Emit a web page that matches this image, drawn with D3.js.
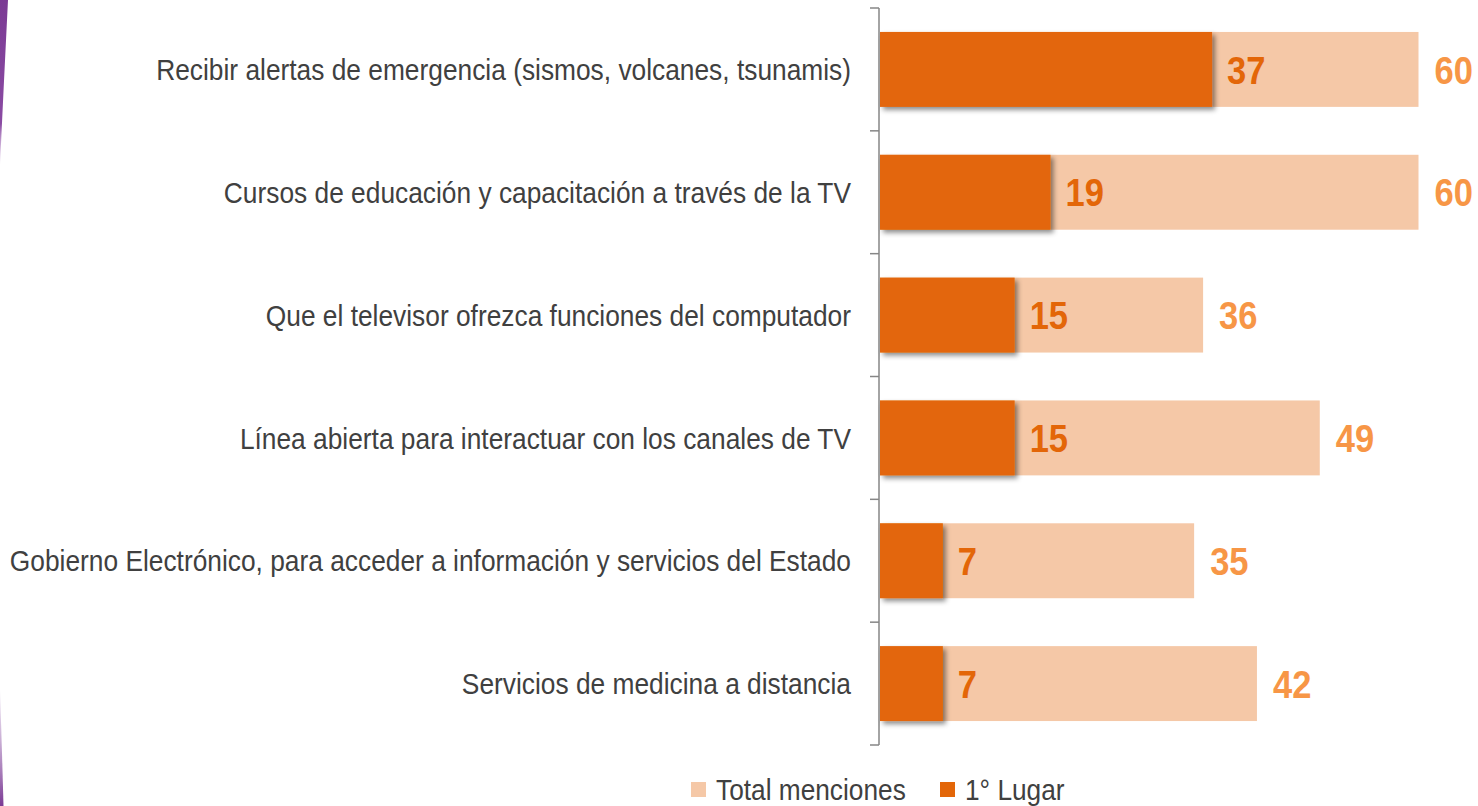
<!DOCTYPE html>
<html><head><meta charset="utf-8">
<script src="https://cdn.jsdelivr.net/npm/d3@7"></script>
<style>html,body{margin:0;padding:0;background:#fff;overflow:hidden}</style>
</head><body>
<svg id="chart" width="1478" height="806"></svg>
<script>
const categories = [
  "Recibir alertas de emergencia (sismos, volcanes, tsunamis)",
  "Cursos de educación y capacitación a través de la TV",
  "Que el televisor ofrezca funciones del computador",
  "Línea abierta para interactuar con los canales de TV",
  "Gobierno Electrónico, para acceder a información y servicios del Estado",
  "Servicios de medicina a distancia"
];
const totalMenciones = [60, 60, 36, 49, 35, 42];
const primerLugar = [37, 19, 15, 15, 7, 7];
const seriesNames = ["Total menciones", "1° Lugar"];

function hasFont(name){
  const c = document.createElement("canvas").getContext("2d");
  c.font = "40px monospace"; const a = c.measureText("abcdefghijklmW").width;
  c.font = `40px '${name}', monospace`; const b = c.measureText("abcdefghijklmW").width;
  return Math.abs(a-b) > 0.5;
}
const narrowOK = hasFont("Liberation Sans Narrow");
const FONT = narrowOK ? "'Liberation Sans Narrow', 'Arial Narrow', sans-serif" : "'Liberation Sans', Arial, sans-serif";
const K = narrowOK ? 1 : 0.82;

const svg = d3.select("#chart");
const defs = svg.append("defs");
const f = defs.append("filter").attr("id","sh").attr("x","-10%").attr("y","-20%").attr("width","130%").attr("height","150%");
f.append("feDropShadow").attr("dx",3).attr("dy",3).attr("stdDeviation",2.5).attr("flood-color","#000").attr("flood-opacity",0.45);

const g1 = defs.append("linearGradient").attr("id","pg").attr("x1",0).attr("y1",0).attr("x2",0).attr("y2",1);
g1.append("stop").attr("offset","0%").attr("stop-color","#7B3A94");
g1.append("stop").attr("offset","75%").attr("stop-color","#8A4BA3");
g1.append("stop").attr("offset","100%").attr("stop-color","#C9A6D6").attr("stop-opacity",0.3);
svg.append("path").attr("d","M0,0 L8,0 Q4,80 0,165 Z").attr("fill","url(#pg)");
const g2 = defs.append("linearGradient").attr("id","pg2").attr("x1",0).attr("y1",0).attr("x2",0).attr("y2",1);
g2.append("stop").attr("offset","0%").attr("stop-color","#B58FC7").attr("stop-opacity",0.2);
g2.append("stop").attr("offset","100%").attr("stop-color","#7B3A94");
svg.append("path").attr("d","M0,690 Q2,750 3.5,806 L0,806 Z").attr("fill","url(#pg2)");

const x = d3.scaleLinear().domain([0, 60]).range([880, 1418.5]);
const y = d3.scaleBand().domain(categories).range([8, 745]).paddingInner(0.39).paddingOuter(0.195);

const axisX = 879;
const step = (745 - 8) / categories.length;
const bounds = d3.range(categories.length + 1).map(i => 8 + i * step);
const ax = svg.append("g");
ax.append("line").attr("x1",axisX).attr("x2",axisX).attr("y1",8).attr("y2",745).attr("stroke","#868686").attr("stroke-width",1.5);
ax.selectAll("line.t").data(bounds).join("line").attr("class","t")
  .attr("x1",axisX-9).attr("x2",axisX).attr("y1",d=>d).attr("y2",d=>d).attr("stroke","#868686").attr("stroke-width",1.5);

svg.append("g").selectAll("rect").data(categories).join("rect")
  .attr("x", x(0)).attr("y", d=>y(d)).attr("height", y.bandwidth())
  .attr("width", (d,i)=>x(totalMenciones[i]) - x(0)).attr("fill","#F5C8A7");
svg.append("g").selectAll("rect").data(categories).join("rect")
  .attr("x", x(0)).attr("y", d=>y(d)).attr("height", y.bandwidth())
  .attr("width", (d,i)=>x(primerLugar[i]) - x(0)).attr("fill","#E36608").attr("filter","url(#sh)");

function txt(sel){ return sel.attr("font-family", FONT); }
function place(xp, yp, sx){ return `translate(${xp},${yp}) scale(${sx*K},1)`; }

svg.append("g").selectAll("text").data(categories).join("text")
  .call(txt).attr("font-size",30).attr("fill","#404040").attr("text-anchor","end")
  .attr("dominant-baseline","central")
  .attr("transform", d=>place(851, y(d)+y.bandwidth()/2, 1.07))
  .text(d=>d);

svg.append("g").selectAll("text").data(categories).join("text")
  .call(txt).attr("font-size",39).attr("font-weight","bold").attr("fill","#E36608")
  .attr("dominant-baseline","central")
  .attr("transform", (d,i)=>place(x(primerLugar[i]) + 15, y(d)+y.bandwidth()/2 + 1, 1.08))
  .text((d,i)=>primerLugar[i]);
svg.append("g").selectAll("text").data(categories).join("text")
  .call(txt).attr("font-size",39).attr("font-weight","bold").attr("fill","#F79646")
  .attr("dominant-baseline","central")
  .attr("transform", (d,i)=>place(x(totalMenciones[i]) + 16, y(d)+y.bandwidth()/2 + 1, 1.08))
  .text((d,i)=>totalMenciones[i]);

const leg = svg.append("g");
const legendColors = ["#F5C8A7", "#E36608"];
const legX = [691, 940];
seriesNames.forEach((n,i)=>{
  leg.append("rect").attr("x",legX[i]).attr("y",782).attr("width",15).attr("height",15).attr("fill",legendColors[i]);
  leg.append("text").call(txt).attr("font-size",29).attr("fill","#404040")
    .attr("dominant-baseline","central")
    .attr("transform", place(legX[i]+25, 790, 1.105)).text(n);
});
</script>
</body></html>
